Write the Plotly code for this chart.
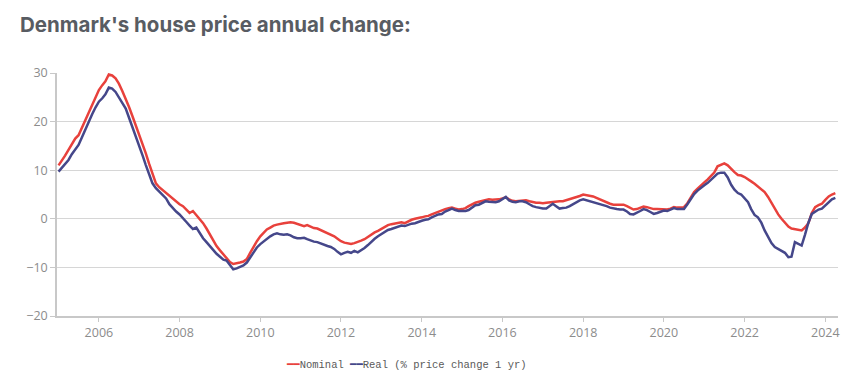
import pandas as pd
import plotly.graph_objects as go

# Monthly dates, Jan 2005 - Apr 2024
dates = pd.date_range("2005-01-01", "2024-04-01", freq="MS")

nominal = [
    # 2005
    11.0, 12.0, 13.0, 14.2, 15.3, 16.5, 17.2, 18.8, 20.5, 22.0, 23.5, 25.0,
    # 2006
    26.5, 27.5, 28.3, 29.7, 29.5, 28.9, 27.8, 26.3, 24.8, 23.0, 21.1, 19.3,
    # 2007
    17.3, 15.4, 13.5, 11.3, 9.2, 7.3, 6.5, 5.9, 5.3, 4.6, 4.1, 3.6,
    # 2008
    3.0, 2.6, 2.0, 1.2, 1.6, 0.8, -0.2, -0.9, -2.0, -3.2, -4.3, -5.6,
    # 2009
    -6.5, -7.4, -8.2, -8.9, -9.3, -9.2, -9.0, -8.8, -8.3, -7.0, -5.7, -4.6,
    # 2010
    -3.6, -2.8, -2.2, -1.8, -1.4, -1.2, -1.0, -0.9, -0.8, -0.7, -0.8, -1.0,
    # 2011
    -1.3, -1.5, -1.3, -1.6, -1.9, -2.0, -2.3, -2.6, -3.0, -3.2, -3.6, -4.1,
    # 2012
    -4.6, -4.9, -5.0, -5.2, -5.0, -4.8, -4.5, -4.2, -3.7, -3.2, -2.8, -2.5,
    # 2013
    -2.1, -1.7, -1.3, -1.1, -1.0, -0.8, -0.7, -0.9, -0.5, -0.2, 0.0, 0.1,
    # 2014
    0.3, 0.5, 0.6, 0.9, 1.2, 1.5, 1.7, 2.0, 2.2, 2.3, 2.1, 1.9,
    # 2015
    2.0, 2.2, 2.6, 3.0, 3.3, 3.5, 3.7, 3.9, 4.0, 3.9, 3.9, 4.0,
    # 2016
    4.2, 4.4, 4.0, 3.7, 3.6, 3.7, 3.8, 3.8, 3.6, 3.4, 3.3, 3.3,
    # 2017
    3.2, 3.3, 3.4, 3.5, 3.6, 3.6, 3.6, 3.8, 4.0, 4.3, 4.5, 4.7,
    # 2018
    5.0, 4.9, 4.8, 4.6, 4.3, 4.0, 3.6, 3.4, 3.1, 2.9, 2.9, 3.0,
    # 2019
    2.9, 2.6, 2.2, 1.9, 2.0, 2.2, 2.5, 2.4, 2.2, 2.0, 2.0, 2.0,
    # 2020
    2.0, 1.9, 2.1, 2.4, 2.3, 2.3, 2.4, 3.2, 4.4, 5.5, 6.2, 6.9,
    # 2021
    7.5, 8.1, 8.8, 9.5, 10.8, 11.1, 11.4, 11.0, 10.2, 9.6, 9.0, 8.9,
    # 2022
    8.6, 8.2, 7.7, 7.2, 6.6, 6.0, 5.5, 4.5, 3.3, 2.0, 0.9, 0.0,
    # 2023
    -0.9, -1.6, -2.0, -2.1, -2.3, -2.4, -1.8, -0.9, 1.2, 2.4, 2.8, 3.1,
    # 2024
    3.9, 4.6, 5.0, 5.3,
]

real = [
    # 2005
    9.7, 10.5, 11.3, 12.1, 13.3, 14.3, 15.2, 16.8, 18.5, 20.0, 21.5, 22.9,
    # 2006
    24.1, 24.8, 25.6, 27.0, 26.8, 26.1, 25.0, 24.0, 22.7, 20.8, 18.9, 17.2,
    # 2007
    15.2, 13.0, 11.1, 9.0, 7.3, 6.3, 5.6, 4.9, 4.2, 3.0, 2.2, 1.5,
    # 2008
    0.9, 0.2, -0.6, -1.4, -2.1, -1.8, -3.0, -4.0, -4.8, -5.6, -6.4, -7.2,
    # 2009
    -7.8, -8.4, -8.6, -9.6, -10.4, -10.2, -9.9, -9.6, -9.0, -8.0, -6.8, -5.9,
    # 2010
    -5.2, -4.6, -4.0, -3.6, -3.2, -3.0, -3.2, -3.3, -3.2, -3.4, -3.8, -4.0,
    # 2011
    -4.0, -3.9, -4.2, -4.5, -4.7, -4.8, -5.1, -5.3, -5.6, -5.8, -6.2, -6.8,
    # 2012
    -7.3, -7.0, -6.8, -7.0, -6.6, -6.9, -6.5, -6.0, -5.4, -4.7, -4.1, -3.6,
    # 2013
    -3.1, -2.7, -2.3, -2.1, -1.9, -1.6, -1.4, -1.5, -1.2, -1.0, -0.9, -0.6,
    # 2014
    -0.4, -0.2, -0.1, 0.3, 0.6, 0.9, 1.0, 1.5, 1.8, 2.1, 1.8, 1.6,
    # 2015
    1.6, 1.6, 1.8, 2.3, 2.8, 2.9, 3.2, 3.6, 3.5, 3.4, 3.4, 3.6,
    # 2016
    4.0, 4.5, 3.8, 3.5, 3.4, 3.6, 3.6, 3.4, 3.0, 2.6, 2.4, 2.2,
    # 2017
    2.1, 2.1, 2.6, 3.1, 2.6, 2.1, 2.2, 2.3, 2.6, 3.0, 3.5, 3.8,
    # 2018
    4.0, 3.8, 3.6, 3.4, 3.3, 3.0, 2.9, 2.6, 2.3, 2.1, 2.0, 1.9,
    # 2019
    1.9, 1.5, 1.0, 0.9, 1.2, 1.6, 2.0, 1.8, 1.4, 1.0, 1.2, 1.5,
    # 2020
    1.7, 1.6, 1.9, 2.2, 2.0, 2.0, 2.0, 3.0, 4.1, 5.1, 5.8, 6.4,
    # 2021
    6.9, 7.4, 8.0, 8.5, 9.3, 9.5, 9.5, 8.5, 7.0, 6.0, 5.3, 5.0,
    # 2022
    4.2, 3.4, 2.0, 0.8, 0.3, -0.8, -2.4, -3.8, -5.0, -5.8, -6.2, -6.5,
    # 2023
    -7.0, -7.9, -7.8, -4.8, -5.1, -5.5, -3.3, -0.8, 1.0, 1.5, 1.9, 2.1,
    # 2024
    2.8, 3.5, 4.0, 4.3,
]

y_ticks = [-20, -10, 0, 10, 20, 30]
x_tick_years = ["2006", "2008", "2010", "2012", "2014", "2016", "2018", "2020", "2022", "2024"]

RED = "#e8413c"
BLUE = "#45478a"

# The page body has an 8px margin, so the figure is drawn 8px smaller
W, H = 851, 368

fig = go.Figure()
fig.add_trace(go.Scatter(x=dates, y=nominal, mode="lines", name="Nominal",
                         line=dict(color=RED, width=2.5), showlegend=False))
fig.add_trace(go.Scatter(x=dates, y=real, mode="lines", name="Real (% price change 1 yr)",
                         line=dict(color=BLUE, width=2.5), showlegend=False))

fig.update_layout(
    width=W, height=H,
    margin=dict(l=49, r=21, t=65, b=60),
    paper_bgcolor="white", plot_bgcolor="white",
    title=dict(text="<b>Denmark's house price annual change:</b>",
               x=12 / W, xanchor="left", y=1 - 17 / H, yanchor="middle",
               font=dict(family="Inter, Roboto, sans-serif", size=20.5, color="#585c62")),
    xaxis=dict(
        type="date",
        range=["2004-12-18", "2024-04-25"],
        tickvals=[f"{y}-01-01" for y in x_tick_years],
        ticktext=x_tick_years,
        showgrid=False, showline=True, linecolor="#c8c8c8", linewidth=1.5,
        ticks="outside", ticklen=4, tickcolor="#c8c8c8",
        tickfont=dict(family="Open Sans, sans-serif", size=12.5, color="#8c8c8c"),
        zeroline=False,
    ),
    yaxis=dict(
        range=[-20, 30],
        tickvals=y_ticks,
        showgrid=True, gridcolor="#d6d6d6", gridwidth=1,
        showline=True, linecolor="#c8c8c8", linewidth=1.5,
        ticks="outside", ticklen=5, tickcolor="#c8c8c8",
        tickfont=dict(family="Open Sans, sans-serif", size=12.5, color="#8c8c8c"),
        zeroline=False,
    ),
    annotations=[
        dict(
            text=(f"<span style='color:{RED}'>━━</span>Nominal "
                  f"<span style='color:{BLUE}'>━━</span>Real (% price change 1 yr)"),
            xref="paper", yref="paper", x=(398 - 49) / 781, y=(308 - 357) / 243,
            xanchor="center", yanchor="middle", showarrow=False,
            font=dict(family="Liberation Mono, DejaVu Sans Mono, monospace", size=10.5, color="#5a5a5a"),
        )
    ],
)

fig.write_html("out.html")
